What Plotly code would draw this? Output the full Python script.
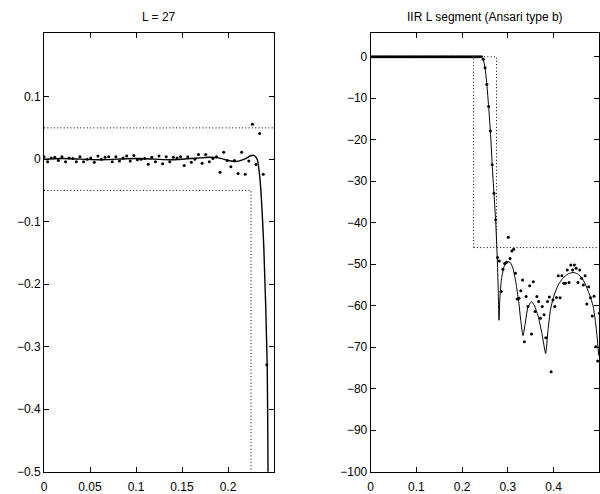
import plotly.graph_objects as go

# ---------------- data ----------------
# Left panel: sampled points (k/256, k = 0..62), linear deviation
left_k = list(range(63))
left_dots = [0.004, -0.004, 0.002, 0.003, -0.002, 0.004, -0.004, 0.002, 0.001, -0.004,
             0.004, -0.004, 0.0, 0.002, -0.005, 0.005, 0.0, 0.003, 0.004, -0.004,
             0.004, -0.003, 0.002, 0.005, -0.003, 0.006, -0.001, 0.0, 0.001, -0.008,
             0.003, -0.004, 0.005, -0.0075, 0.004, -0.004, 0.003, 0.002, 0.004, -0.010,
             0.004, -0.005, 0.0, 0.0075, -0.0065, 0.0075, -0.004, 0.001, 0.004, -0.021,
             0.011, -0.002, -0.012, -0.002, -0.023, 0.011, -0.024, -0.003, 0.056, -0.0085,
             0.041, -0.024, -0.329]

# Left panel: solid response curve
left_curve_x = [0.0, 0.02, 0.04, 0.06, 0.08, 0.10, 0.12, 0.14, 0.16, 0.17, 0.18, 0.19,
                0.20, 0.208, 0.218, 0.224, 0.228, 0.2317, 0.2345, 0.2389, 0.2426, 0.2435, 0.2436]
left_curve_y = [0.0, 0.001, 0.0, -0.001, 0.0, 0.001, 0.0, -0.001, 0.001, 0.002, 0.003, 0.002,
                -0.002, -0.004, 0.0, 0.005, 0.006, 0.0, -0.028, -0.14, -0.329, -0.5, -0.6]

# Left panel: specification (dotted)
left_spec_upper_x = [0.0, 0.25]
left_spec_upper_y = [0.05, 0.05]
left_spec_lower_x = [0.0, 0.225, 0.225]
left_spec_lower_y = [-0.05, -0.05, -0.5]

# Right panel: sampled points (k/256, k = 0..128), dB
right_k = list(range(129))
right_dots = [0, 0, 0, 0, 0, 0, 0, 0, 0, 0,
              0, 0, 0, 0, 0, 0, 0, 0, 0, 0,
              0, 0, 0, 0, 0, 0, 0, 0, 0, 0,
              0, 0, 0, 0, 0, 0, 0, 0, 0, 0,
              0, 0, 0, 0, 0, 0, 0, 0, 0, 0,
              0, 0, 0, 0, 0, 0, 0, 0, 0, 0,
              0, 0, 0,
              -0.6, -2.65, -6.6, -12.0, -17.9, -26.0, -32.9, -39.3,
              -48.4, -49.2, -56.6, -51.2, -49.8, -49.5, -43.5, -48.6, -46.8, -46.4,
              -52.2, -58.4, -58.2, -56.4, -53.8, -68.7, -57.8, -60.2, -55.2, -66.8,
              -54.2, -61.4, -57.8, -59.0, -63.0, -60.2, -62.2, -67.7, -59.0, -57.9,
              -75.9, -58.6, -60.2, -58.0, -52.8, -58.1, -52.8, -54.6, -54.6, -51.4,
              -54.4, -50.2, -51.4, -50.2, -51.0, -54.4, -51.4, -53.4, -55.0, -52.8,
              -59.6, -55.4, -58.1, -62.5, -57.7, -69.9, -73.3, -61.8]

# Right panel: solid response curve (dB)
right_curve_x = [0.0, 0.1, 0.2, 0.236, 0.242, 0.246, 0.25, 0.2539, 0.2578, 0.2617, 0.2656,
                 0.2695, 0.2734, 0.2765, 0.2788, 0.2805, 0.2825, 0.286, 0.292, 0.2995, 0.305,
                 0.311, 0.3175, 0.3235, 0.3285, 0.333, 0.3375, 0.3435, 0.3515, 0.358, 0.366,
                 0.374, 0.3825, 0.3875, 0.393, 0.40, 0.41, 0.42, 0.432, 0.4424, 0.452, 0.463,
                 0.472, 0.479, 0.486, 0.491, 0.495, 0.4985]
right_curve_y = [0.0, 0.0, 0.0, 0.0, -0.15, -0.7, -2.7, -6.6, -12.0, -18.0, -26.0,
                 -33.0, -40.0, -48.0, -56.0, -63.5, -58.0, -53.5, -50.5, -49.4, -49.6,
                 -51.0, -54.5, -59.0, -64.0, -67.2, -64.5, -60.5, -59.0, -60.0, -62.5,
                 -66.5, -71.5, -66.0, -61.0, -57.8, -55.0, -53.4, -52.3, -52.0, -52.3, -53.5,
                 -55.5, -57.5, -60.0, -63.5, -67.5, -72.0]

# Right panel: specification (dotted)
right_spec_box_x = [0.225, 0.225, 0.275, 0.275]
right_spec_box_y = [-46, 0, 0, -46]
right_spec_stop_x = [0.225, 0.5]
right_spec_stop_y = [-46, -46]

left_xticks = [0, 0.05, 0.1, 0.15, 0.2]
left_xlabels = ["0", "0.05", "0.1", "0.15", "0.2"]
left_yticks = [-0.5, -0.4, -0.3, -0.2, -0.1, 0, 0.1]
left_ylabels = ["\u22120.5", "\u22120.4", "\u22120.3", "\u22120.2", "\u22120.1", "0", "0.1"]
right_xticks = [0, 0.1, 0.2, 0.3, 0.4]
right_xlabels = ["0", "0.1", "0.2", "0.3", "0.4"]
right_yticks = [-100, -90, -80, -70, -60, -50, -40, -30, -20, -10, 0]
right_ylabels = ["\u2212100", "\u221290", "\u221280", "\u221270", "\u221260", "\u221250",
                 "\u221240", "\u221230", "\u221220", "\u221210", "0"]

titles = ["L = 27", "IIR L segment (Ansari type b)"]

# ---------------- figure ----------------
FONT = "Liberation Sans, Arial, Helvetica, sans-serif"
fig = go.Figure()

dot_line = dict(color="black", width=1, dash="1px,2.3px")

# Left panel
fig.add_trace(go.Scatter(x=left_spec_upper_x, y=left_spec_upper_y, mode="lines",
                         line=dot_line, xaxis="x", yaxis="y", hoverinfo="skip"))
fig.add_trace(go.Scatter(x=left_spec_lower_x, y=left_spec_lower_y, mode="lines",
                         line=dot_line, xaxis="x", yaxis="y", hoverinfo="skip"))
fig.add_trace(go.Scatter(x=left_curve_x, y=left_curve_y, mode="lines",
                         line=dict(color="black", width=1.4, shape="spline", smoothing=0.6),
                         xaxis="x", yaxis="y"))
fig.add_trace(go.Scatter(x=[k / 256 for k in left_k], y=left_dots, mode="markers",
                         marker=dict(color="black", size=3), xaxis="x", yaxis="y"))

# Right panel
fig.add_trace(go.Scatter(x=right_spec_box_x, y=right_spec_box_y, mode="lines",
                         line=dot_line, xaxis="x2", yaxis="y2", hoverinfo="skip"))
fig.add_trace(go.Scatter(x=right_spec_stop_x, y=right_spec_stop_y, mode="lines",
                         line=dot_line, xaxis="x2", yaxis="y2", hoverinfo="skip"))
fig.add_trace(go.Scatter(x=right_curve_x, y=right_curve_y, mode="lines",
                         line=dict(color="black", width=1, shape="spline", smoothing=0.6),
                         xaxis="x2", yaxis="y2"))
fig.add_trace(go.Scatter(x=[k / 256 for k in right_k], y=right_dots, mode="markers",
                         marker=dict(color="black", size=3), xaxis="x2", yaxis="y2"))

W, H = 600, 494
ytop, ybot = 33.3, 471.7
ydom = [(H - ybot) / H, (H - ytop) / H]
xdom1 = [44 / W, 274 / W]
xdom2 = [370.7 / W, 599.4 / W]

axis_common = dict(showline=True, linecolor="black", linewidth=1, mirror="ticks",
                   ticks="inside", ticklen=5, tickcolor="black", tickwidth=1,
                   showgrid=False, zeroline=False, automargin=False,
                   tickfont=dict(family=FONT, size=12, color="black"))

fig.update_layout(
    width=W, height=H,
    margin=dict(l=0, r=0, t=0, b=0),
    paper_bgcolor="white", plot_bgcolor="white",
    showlegend=False,
    xaxis=dict(domain=xdom1, range=[0, 0.25], anchor="y", ticklabelstandoff=4,
               tickvals=left_xticks, ticktext=left_xlabels, **axis_common),
    yaxis=dict(domain=ydom, range=[-0.5, 0.2013], anchor="x",
               tickvals=left_yticks, ticktext=left_ylabels, **axis_common),
    xaxis2=dict(domain=xdom2, range=[0, 0.5], anchor="y2", ticklabelstandoff=4,
                tickvals=right_xticks, ticktext=right_xlabels, **axis_common),
    yaxis2=dict(domain=ydom, range=[-100, 5.65], anchor="x2",
                tickvals=right_yticks, ticktext=right_ylabels, **axis_common),
)

for title, dom in zip(titles, [xdom1, xdom2]):
    fig.add_annotation(text=title, x=(dom[0] + dom[1]) / 2, y=(H - 17.5) / H,
                       xref="paper", yref="paper", showarrow=False,
                       xanchor="center", yanchor="middle",
                       font=dict(family=FONT, size=12, color="black"))

fig.write_html("out.html")
